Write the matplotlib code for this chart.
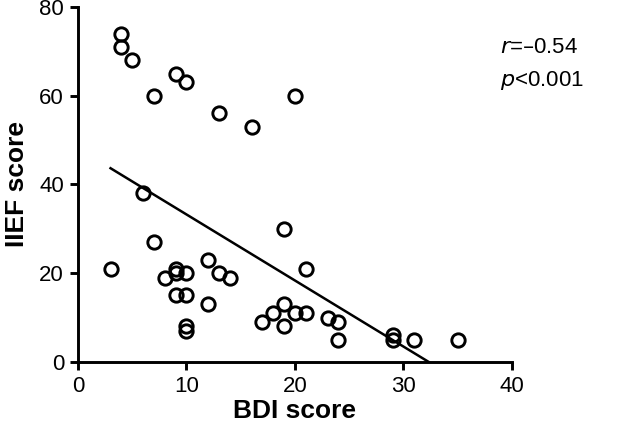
import numpy as np
import matplotlib
matplotlib.use("Agg")
import matplotlib.pyplot as plt

plt.rcParams['font.family'] = ['Liberation Sans', 'DejaVu Sans']

bdi = [3, 4, 4, 5, 6, 7, 7, 8, 9, 9, 9, 9, 10, 10, 10, 10, 10, 12, 12, 13, 13, 14,
       16, 17, 18, 19, 19, 19, 20, 20, 21, 21, 23, 24, 24, 29, 29, 31, 35]
iief = [21, 74, 71, 68, 38, 60, 27, 19, 65, 21, 20, 15, 63, 20, 15, 8, 7, 23, 13, 56, 20, 19,
        53, 9, 11, 30, 13, 8, 60, 11, 21, 11, 10, 9, 5, 6, 5, 5, 5]
x_ticks = [0, 10, 20, 30, 40]
y_ticks = [0, 20, 40, 60, 80]
r_text = 'r'
r_value = '=–0.54'
p_text = 'p'
p_value = '<0.001'

# least-squares regression line, drawn from the smallest BDI to where it meets 0
slope, intercept = np.polyfit(bdi, iief, 1)
x_end = -intercept / slope
line_x = np.array([min(bdi), x_end])
line_y = slope * line_x + intercept

fig = plt.figure(figsize=(6.2, 4.33), dpi=100)
ax = fig.add_axes([0.1258, 0.164, 0.7, 0.82])

ax.plot(line_x, line_y, color='black', lw=1.8, zorder=2)
ax.plot(bdi, iief, 'o', ms=9.6, mfc='none', mec='black', mew=2.1, zorder=3, clip_on=False)

ax.set_xlim(0, 40)
ax.set_ylim(0, 80)
ax.set_xticks(x_ticks)
ax.set_yticks(y_ticks)
for s in ['top', 'right']:
    ax.spines[s].set_visible(False)
for s in ['left', 'bottom']:
    ax.spines[s].set_linewidth(2.1)
ax.tick_params(width=2.1, length=6, labelsize=16, direction='out', pad=4)
ax.set_xlabel('BDI score', fontsize=19, fontweight='bold')
ax.set_ylabel('IIEF score', fontsize=19, fontweight='bold')
ax.xaxis.set_label_coords(0.5, -0.104)
ax.yaxis.set_label_coords(-0.114, 0.5)

ax.text(38.9, 69.6, '$\\it{' + r_text + '}$' + r_value, fontsize=16, ha='left', va='baseline')
ax.text(38.9, 62.2, '$\\it{' + p_text + '}$' + p_value, fontsize=16, ha='left', va='baseline')

fig.savefig('out.png', dpi=100)
